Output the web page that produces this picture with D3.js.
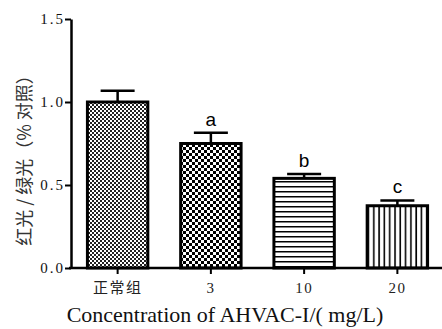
<!DOCTYPE html>
<html>
<head>
<meta charset="utf-8">
<script src="https://cdn.jsdelivr.net/npm/d3@7"></script>
<style>
  body { margin: 0; background: #fff; }
  svg { display: block; }
</style>
</head>
<body>
<div id="chart"></div>
<script>
const groups = ["正常组", "3", "10", "20"];
const means = [1.0, 0.75, 0.54, 0.375];
const errors = [0.068, 0.065, 0.027, 0.032];
const letters = ["", "a", "b", "c"];
const yTicks = [0, 0.5, 1.0, 1.5];

const w = 442, h = 329;
const x0 = 71, x1 = 444, yBottom = 268, yTop = 19;

const svg = d3.select("#chart").append("svg")
  .attr("width", w).attr("height", h);

// fill patterns, one per bar
const defs = svg.append("defs");
const p1 = defs.append("pattern").attr("id", "pat0").attr("patternUnits", "userSpaceOnUse")
  .attr("width", 4).attr("height", 4);
p1.append("rect").attr("width", 4).attr("height", 4).attr("fill", "#fff");
p1.append("rect").attr("width", 2).attr("height", 2).attr("fill", "#222");
p1.append("rect").attr("x", 2).attr("y", 2).attr("width", 2).attr("height", 2).attr("fill", "#222");

const p2 = defs.append("pattern").attr("id", "pat1").attr("patternUnits", "userSpaceOnUse")
  .attr("width", 6).attr("height", 6);
p2.append("rect").attr("width", 6).attr("height", 6).attr("fill", "#fff");
p2.append("rect").attr("width", 3).attr("height", 3).attr("fill", "#000");
p2.append("rect").attr("x", 3).attr("y", 3).attr("width", 3).attr("height", 3).attr("fill", "#000");

const p3 = defs.append("pattern").attr("id", "pat2").attr("patternUnits", "userSpaceOnUse")
  .attr("width", 5).attr("height", 5);
p3.append("rect").attr("width", 5).attr("height", 5).attr("fill", "#fff");
p3.append("rect").attr("y", 1).attr("width", 5).attr("height", 1.5).attr("fill", "#000");

const p4 = defs.append("pattern").attr("id", "pat3").attr("patternUnits", "userSpaceOnUse")
  .attr("width", 5.3).attr("height", 5);
p4.append("rect").attr("width", 5.3).attr("height", 5).attr("fill", "#fff");
p4.append("rect").attr("x", 2).attr("width", 1.6).attr("height", 5).attr("fill", "#000");

const xScale = d3.scaleBand().domain(groups).range([x0, x1]).paddingInner(0.32).paddingOuter(0.16);
const yScale = d3.scaleLinear().domain([0, 1.5]).range([yBottom, yTop]);

// error bars
const capW = 34;
const err = svg.append("g").attr("stroke", "#000").attr("stroke-width", 2.5);
groups.forEach((g, i) => {
  const cx = xScale(g) + xScale.bandwidth() / 2;
  err.append("line").attr("x1", cx).attr("x2", cx)
    .attr("y1", yScale(means[i])).attr("y2", yScale(means[i] + errors[i]));
  err.append("line").attr("x1", cx - capW / 2).attr("x2", cx + capW / 2)
    .attr("y1", yScale(means[i] + errors[i])).attr("y2", yScale(means[i] + errors[i]));
});

// bars
svg.selectAll("rect.bar").data(means).enter().append("rect")
  .attr("class", "bar")
  .attr("x", (d, i) => xScale(groups[i]) + 1.5)
  .attr("y", d => yScale(d))
  .attr("width", xScale.bandwidth() - 3)
  .attr("height", d => yBottom - yScale(d))
  .attr("fill", (d, i) => `url(#pat${i})`)
  .attr("stroke", "#000")
  .attr("stroke-width", 3);

// significance letters
svg.selectAll("text.sig").data(means).enter().append("text")
  .attr("class", "sig")
  .attr("x", (d, i) => xScale(groups[i]) + xScale.bandwidth() / 2)
  .attr("y", (d, i) => yScale(d + errors[i]) - 7)
  .attr("text-anchor", "middle")
  .attr("font-family", "Liberation Sans, Arial, sans-serif")
  .attr("font-size", 19)
  .text((d, i) => letters[i]);

// axes
const yAxis = d3.axisLeft(yScale).tickValues(yTicks).tickSize(6).tickSizeOuter(0)
  .tickFormat(d3.format(".1f"));
const gy = svg.append("g").attr("transform", `translate(${x0},0)`).call(yAxis);
gy.select(".domain").attr("stroke-width", 2.5);
gy.selectAll(".tick line").attr("stroke-width", 2);
gy.selectAll(".tick text")
  .attr("font-family", "Liberation Serif, serif")
  .attr("font-size", 15)
  .attr("letter-spacing", 2)
  .attr("fill", "#111")
  .attr("x", -6);

const xAxis = d3.axisBottom(xScale).tickSize(6).tickSizeOuter(0);
const gx = svg.append("g").attr("transform", `translate(0,${yBottom})`).call(xAxis);
gx.select(".domain").attr("stroke-width", 2.5).attr("d", `M${x0 - 2},0H${w}`);
gx.selectAll(".tick line").attr("stroke-width", 2);
gx.selectAll(".tick text")
  .attr("font-family", "Liberation Serif, Noto Sans CJK SC, serif")
  .attr("font-size", 15)
  .attr("letter-spacing", 1.5)
  .attr("fill", "#222")
  .attr("y", 14);

// axis titles
svg.append("text")
  .attr("transform", `translate(31,156) rotate(-90)`)
  .attr("text-anchor", "middle")
  .attr("font-family", "Noto Sans CJK SC, sans-serif")
  .attr("font-size", 18)
  .attr("fill", "#333")
  .text("红光 / 绿光（% 对照）");

svg.append("text")
  .attr("x", 225).attr("y", 322)
  .attr("text-anchor", "middle")
  .attr("font-family", "Liberation Serif, Times New Roman, serif")
  .attr("font-size", 22)
  .attr("fill", "#111")
  .text("Concentration of AHVAC-I/( mg/L)");
</script>
</body>
</html>
